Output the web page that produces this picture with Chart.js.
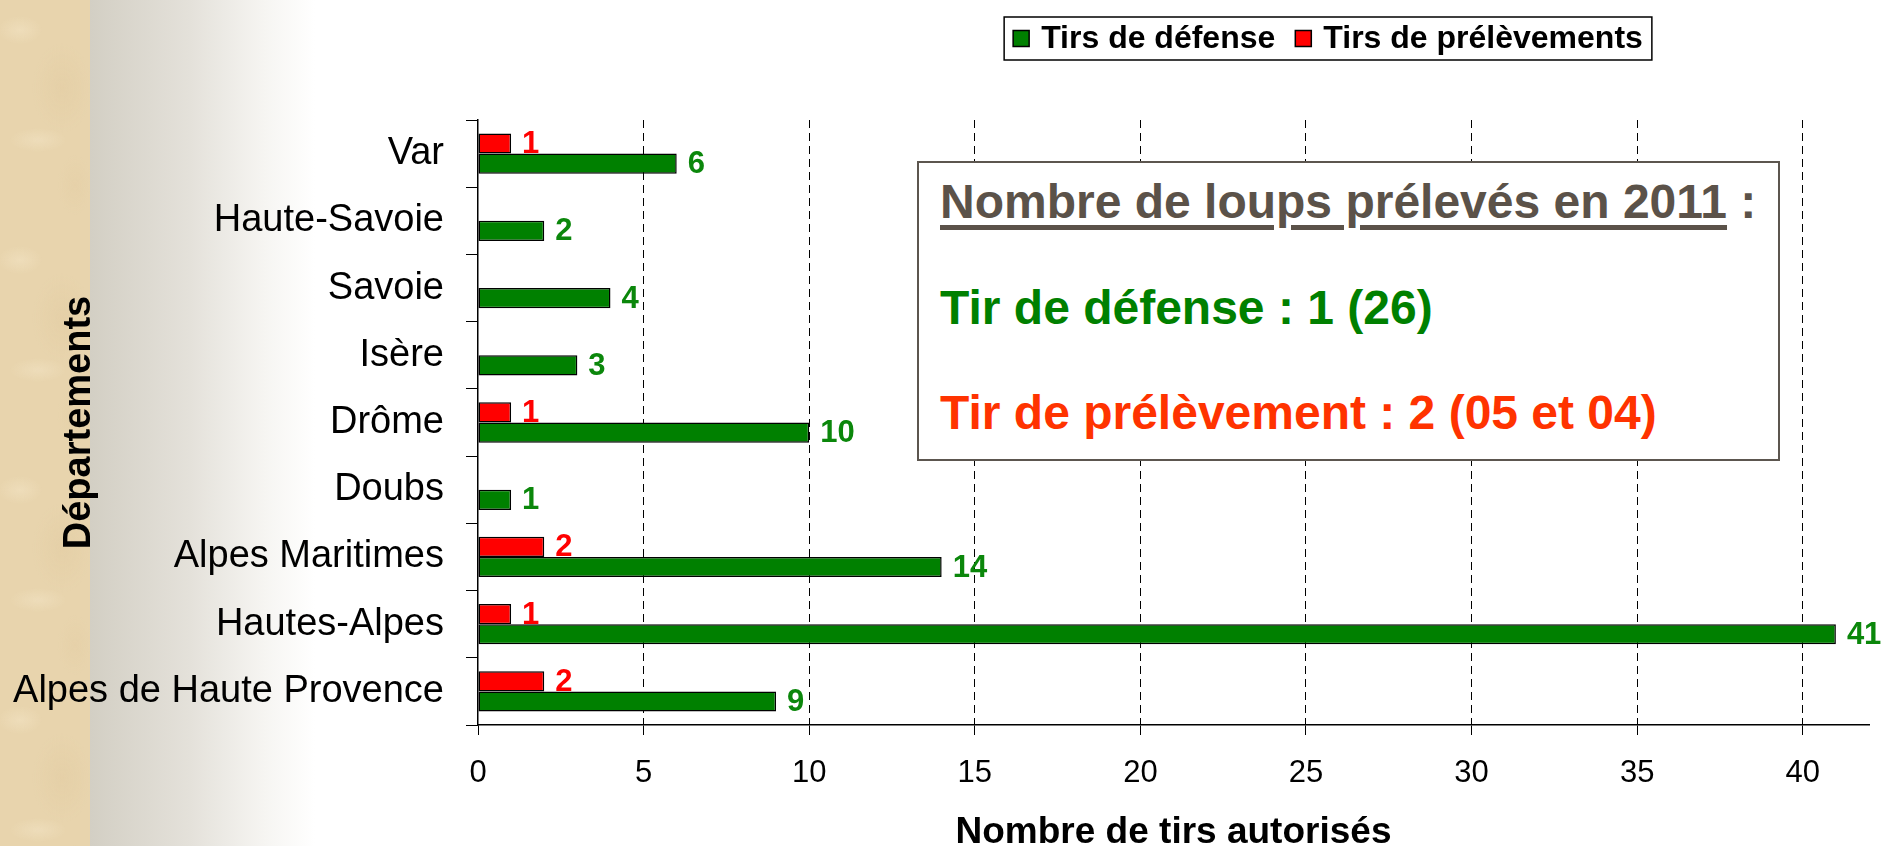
<!DOCTYPE html>
<html lang="fr">
<head>
<meta charset="utf-8">
<title>Nombre de tirs autorisés par département</title>
<script src="https://cdn.jsdelivr.net/npm/chart.js@4.4.1/dist/chart.umd.min.js"></script>
<style>
  html, body { margin: 0; padding: 0; }
  body {
    width: 1898px; height: 846px; overflow: hidden; position: relative;
    font-family: 'Liberation Sans', Arial, sans-serif;
    background: linear-gradient(to right, #d3cfc4 0, #e4e1da 100px, #f6f5f2 175px, #fff 225px) 90px 0 / 1808px 100% no-repeat, #fff;
  }
  #parchemin {
    position: absolute; left: 0; top: 0; width: 90px; height: 846px;
    background:
      radial-gradient(ellipse 22px 14px at 20px 30px, rgba(250,238,210,.35), rgba(250,238,210,0)),
      radial-gradient(ellipse 30px 45px at 62px 88px, rgba(214,188,140,.18), rgba(214,188,140,0)),
      radial-gradient(ellipse 28px 12px at 38px 140px, rgba(250,240,215,.3), rgba(250,240,215,0)),
      radial-gradient(ellipse 18px 30px at 75px 185px, rgba(220,195,150,.18), rgba(220,195,150,0)),
      #e8d4ad;
    background-size: 90px 230px;
  }
  #graphique { position: absolute; left: 0; top: 0; }
  #encadre {
    position: absolute; left: 917px; top: 161px; width: 863px; height: 300px;
    box-sizing: border-box; border: 2px solid #5c564f; background: #fff;
  }
  .ligne { position: absolute; left: 940px; white-space: nowrap; font-weight: bold; line-height: 1; }
  #titreEncadre { top: 178px; font-size: 48px; color: #5b5249; }
  #titreEncadre u { text-decoration-thickness: 5px; text-underline-offset: 7px; }
  #ligneDefense { top: 284px; font-size: 48px; color: #008000; }
  #lignePrelevement { top: 389px; font-size: 48px; color: #ff3300; }
</style>
</head>
<body>
<div id="parchemin"></div>
<canvas id="graphique" width="1898" height="846"></canvas>
<div id="encadre"></div>
<div class="ligne" id="titreEncadre"><u>Nombre de loups prélevés en 2011</u> :</div>
<div class="ligne" id="ligneDefense">Tir de défense : 1 (26)</div>
<div class="ligne" id="lignePrelevement">Tir de prélèvement : 2 (05 et 04)</div>
<script>
// Données (haut -> bas)
const departements = ['Var', 'Haute-Savoie', 'Savoie', 'Isère', 'Drôme', 'Doubs', 'Alpes Maritimes', 'Hautes-Alpes', 'Alpes de Haute Provence'];
const tirsDefense = [6, 2, 4, 3, 10, 1, 14, 41, 9];
const tirsPrelevements = [1, null, null, null, 1, null, 2, 1, 2];
const nomsSeries = ['Tirs de défense', 'Tirs de prélèvements'];
const axeX = { min: 0, max: 42, pas: 5 };

const police = "'Liberation Sans', Arial, sans-serif";
Chart.defaults.font.family = police;
Chart.defaults.color = '#000';

// étiquettes de valeurs au bout des barres
const etiquettes = {
  id: 'etiquettes',
  afterDatasetsDraw(chart) {
    const ctx = chart.ctx;
    ctx.save();
    ctx.font = 'bold 31px ' + police;
    ctx.textAlign = 'left';
    ctx.textBaseline = 'middle';
    chart.data.datasets.forEach((ds, i) => {
      chart.getDatasetMeta(i).data.forEach((barre, j) => {
        const v = ds.data[j];
        if (v == null) return;
        ctx.fillStyle = ds.couleurEtiquette;
        ctx.fillText(String(v), barre.x + 11, barre.y + 1);
      });
    });
    ctx.restore();
  }
};

// légende encadrée (ordre : défense puis prélèvements)
const legendeCadre = {
  id: 'legendeCadre',
  afterDraw(chart) {
    const ctx = chart.ctx;
    const items = chart.data.datasets.slice().reverse();
    const carre = 16, ecart = 12, entre = 20, marge = 9, h = 43, haut = 17, centre = 1328;
    ctx.save();
    ctx.font = 'bold 32px ' + police;
    let w = marge * 2;
    items.forEach((d, k) => { w += carre + ecart + ctx.measureText(d.label).width + (k ? entre : 0); });
    let x = centre - w / 2;
    ctx.fillStyle = '#fff';
    ctx.fillRect(x, haut, w, h);
    ctx.strokeStyle = '#000';
    ctx.lineWidth = 1.5;
    ctx.strokeRect(x, haut, w, h);
    x += marge;
    ctx.textBaseline = 'middle';
    items.forEach((d, k) => {
      if (k) x += entre;
      ctx.fillStyle = d.backgroundColor;
      ctx.fillRect(x, haut + h / 2 - carre / 2, carre, carre);
      ctx.lineWidth = 1.5;
      ctx.strokeRect(x, haut + h / 2 - carre / 2, carre, carre);
      x += carre + ecart;
      ctx.fillStyle = '#000';
      ctx.fillText(d.label, x, haut + h / 2 + 1);
      x += ctx.measureText(d.label).width;
    });
    ctx.restore();
  }
};

new Chart(document.getElementById('graphique'), {
  type: 'bar',
  data: {
    labels: departements,
    datasets: [
      { label: nomsSeries[1], data: tirsPrelevements, backgroundColor: '#ff0000', borderColor: '#000', borderWidth: 1.5, borderSkipped: false, couleurEtiquette: '#ff0000' },
      { label: nomsSeries[0], data: tirsDefense, backgroundColor: '#008000', borderColor: '#000', borderWidth: 1.5, borderSkipped: false, couleurEtiquette: '#0b870b' }
    ]
  },
  options: {
    indexAxis: 'y',
    responsive: false,
    animation: false,
    devicePixelRatio: 1,
    categoryPercentage: 0.6,
    barPercentage: 1.0,
    layout: { padding: { top: 120, right: 29, left: 0, bottom: 0 } },
    plugins: { legend: { display: false }, tooltip: { enabled: false } },
    scales: {
      x: {
        type: 'linear', min: axeX.min, max: axeX.max,
        afterFit: (s) => { s.height = 121; },
        ticks: { stepSize: axeX.pas, includeBounds: false, font: { size: 31 }, color: '#000', padding: 20 },
        grid: {
          color: (c) => (c.tick && c.tick.value === 0 ? 'rgba(0,0,0,0)' : '#000'),
          tickColor: '#000', lineWidth: 1, tickLength: 10, tickBorderDash: []
        },
        border: { color: '#000', width: 1.5, dash: [8, 5] },
        title: { display: true, text: 'Nombre de tirs autorisés', color: '#000', font: { size: 37, weight: 'bold', lineHeight: 0.8 }, padding: { top: 0, bottom: -2 } }
      },
      y: {
        type: 'category', offset: true,
        afterFit: (s) => { s.width = 478; },
        ticks: { font: { size: 38 }, color: '#000', padding: 22 },
        grid: { drawOnChartArea: false, drawTicks: true, tickLength: 12, color: '#000', offset: true },
        border: { color: '#000', width: 1.5 },
        title: { display: true, text: 'Départements', color: '#000', font: { size: 38, weight: 'bold', lineHeight: 1 }, padding: { top: 61, bottom: 0 } }
      }
    }
  },
  plugins: [etiquettes, legendeCadre]
});
</script>
</body>
</html>
